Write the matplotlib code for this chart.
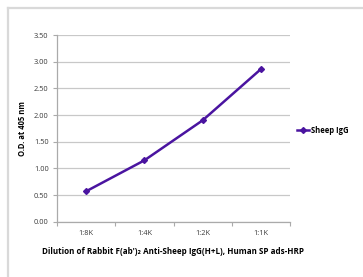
import matplotlib
matplotlib.use("Agg")
import matplotlib.pyplot as plt
from matplotlib.lines import Line2D

# data
dilutions = ["1:8K", "1:4K", "1:2K", "1:1K"]
sheep_igg = [0.57, 1.15, 1.90, 2.86]
y_ticks = [0.0, 0.5, 1.0, 1.5, 2.0, 2.5, 3.0, 3.5]

plt.rcParams['font.family'] = ['Open Sans', 'DejaVu Sans']

W, H = 363, 277
fig = plt.figure(figsize=(W / 100, H / 100), dpi=100)
ax = fig.add_axes([57 / W, 1 - 221.7 / H, (290 - 57) / W, (221.7 - 35) / H])

# outer light frame (cut at right and bottom)
fx, fy = 7.5 / W, 1 - 7.5 / H
fig.add_artist(Line2D([fx, fx], [0, fy], color="#d9d9d9", lw=1.6, transform=fig.transFigure))
fig.add_artist(Line2D([fx, 1], [fy, fy], color="#d9d9d9", lw=1.6, transform=fig.transFigure))

xs = [i + 0.5 for i in range(len(dilutions))]
ax.plot(xs, sheep_igg, color="#4a14a0", lw=1.8, marker="D", markersize=3,
        label="Sheep IgG")

ax.set_xlim(0, len(dilutions))
ax.set_ylim(0, 3.5)
ax.set_yticks(y_ticks)
ax.set_yticklabels(["%.2f" % v for v in y_ticks])
ax.set_xticks(range(len(dilutions) + 1))
ax.set_xticklabels([])
ax.set_xticks(xs, minor=True)
ax.set_xticklabels(dilutions, minor=True)
ax.tick_params(axis="x", which="minor", length=0, pad=6)
ax.tick_params(axis="x", which="major", length=3, color="#aaaaaa")
ax.tick_params(axis="y", length=3, color="#aaaaaa", pad=3)
ax.tick_params(labelsize=5.3, labelcolor="#3a3a3a")
ax.tick_params(axis="x", which="minor", labelsize=5.3, labelcolor="#3a3a3a")

ax.grid(axis="y", color="#c8c8c8", lw=0.9)
ax.set_axisbelow(True)
for s in ["top", "right"]:
    ax.spines[s].set_visible(False)
for s in ["left", "bottom"]:
    ax.spines[s].set_color("#aaaaaa")
    ax.spines[s].set_linewidth(0.9)

ax.set_ylabel("O.D. at 405 nm", fontsize=5.5, fontweight="bold", labelpad=5)
ax.set_xlabel("Dilution of Rabbit F(ab')\u2082 Anti-Sheep IgG(H+L), Human SP ads-HRP",
              fontsize=5.8, fontweight="bold", labelpad=7)

ax.legend(loc="center left", bbox_to_anchor=(1.0, 0.49), frameon=False,
          handlelength=1.6, handletextpad=0.2,
          prop={"weight": "bold", "size": 5.5})

fig.savefig("out.png", dpi=100)
